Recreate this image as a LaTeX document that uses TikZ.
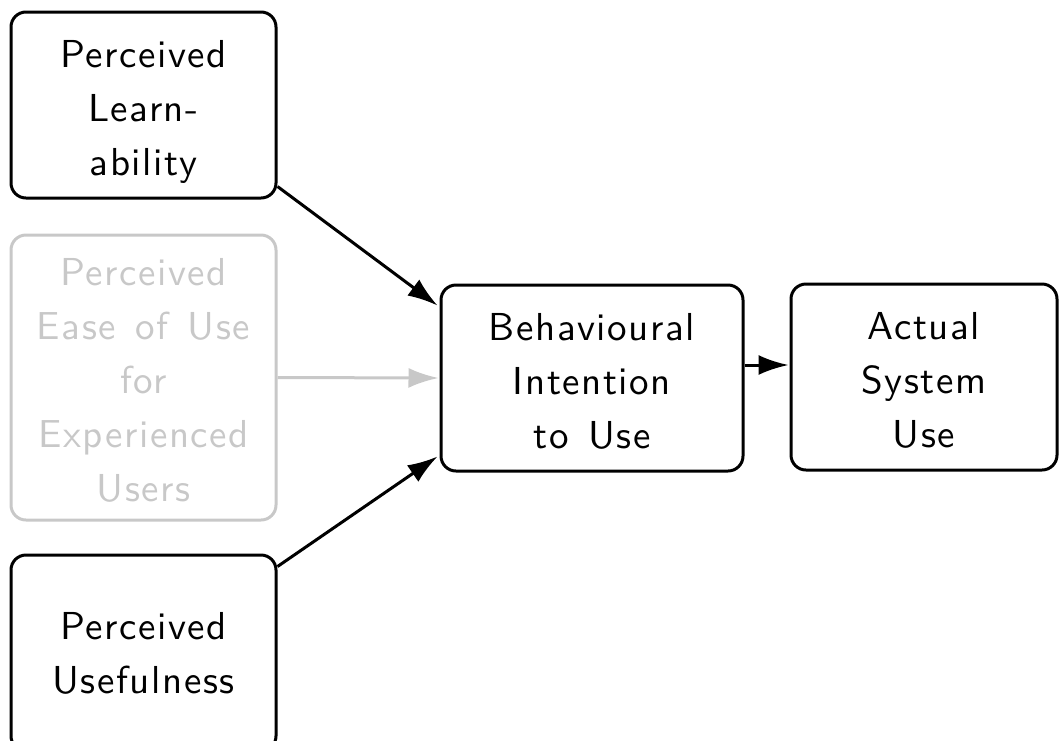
\documentclass[tikz,border=0pt]{standalone}
\usepackage{fontspec}
\setsansfont{lmsans10-regular.otf}[LetterSpace=4]
\usetikzlibrary{arrows.meta,calc}
\definecolor{faded}{RGB}{200,200,200}
\tikzset{
  factor/.style={draw, line width=3pt, rounded corners=15pt, align=center,
    inner sep=0pt, font=\sffamily\fontsize{39}{54}\selectfont},
  link/.style={line width=3pt, -{Latex[length=30pt,width=20pt]}},
}
\newcommand{\gap}{\hspace{0.5em}}
% strut on a first line, to lower a text block inside its box
\newcommand{\topstrut}[1]{\rule{0pt}{#1}}
\begin{document}
\begin{tikzpicture}[x=1pt,y=-1pt]
\useasboundingbox (0,0) rectangle (1059,740);
% predictors
\node[factor, minimum width=265pt, minimum height=186pt] (learn) at (143.5,105)
  {\topstrut{41pt}Perceived\\Learn-\\ability};
\node[factor, draw=faded, text=faded, minimum width=265pt, minimum height=285pt] (ease) at (143.5,377.5)
  {\topstrut{33pt}Perceived\\Ease\gap of\gap Use\\for\\Experienced\\Users};
\node[factor, minimum width=265pt, minimum height=196pt] (useful) at (143.5,653)
  {Perceived\\Usefulness};
% outcomes
\node[factor, minimum width=302pt, minimum height=186pt] (intent) at (592,378)
  {\topstrut{33pt}Behavioural\\Intention\\to\gap Use};
\node[factor, minimum width=266pt, minimum height=186pt] (actual) at (924,377)
  {\topstrut{33pt}Actual\\System\\Use};
% relations
\draw[link] ($(learn.south east)+(0,-13)$) -- ($(intent.north west)+(-2,22)$);
\draw[link, faded] (ease.east) -- ($(intent.west)+(-1,0)$);
\draw[link] ($(useful.north east)+(0,13)$) -- ($(intent.south west)+(-2,-16)$);
\draw[link] ($(intent.east)+(0,-13)$) -- ($(actual.west)+(-1,-12)$);
\end{tikzpicture}
\end{document}
